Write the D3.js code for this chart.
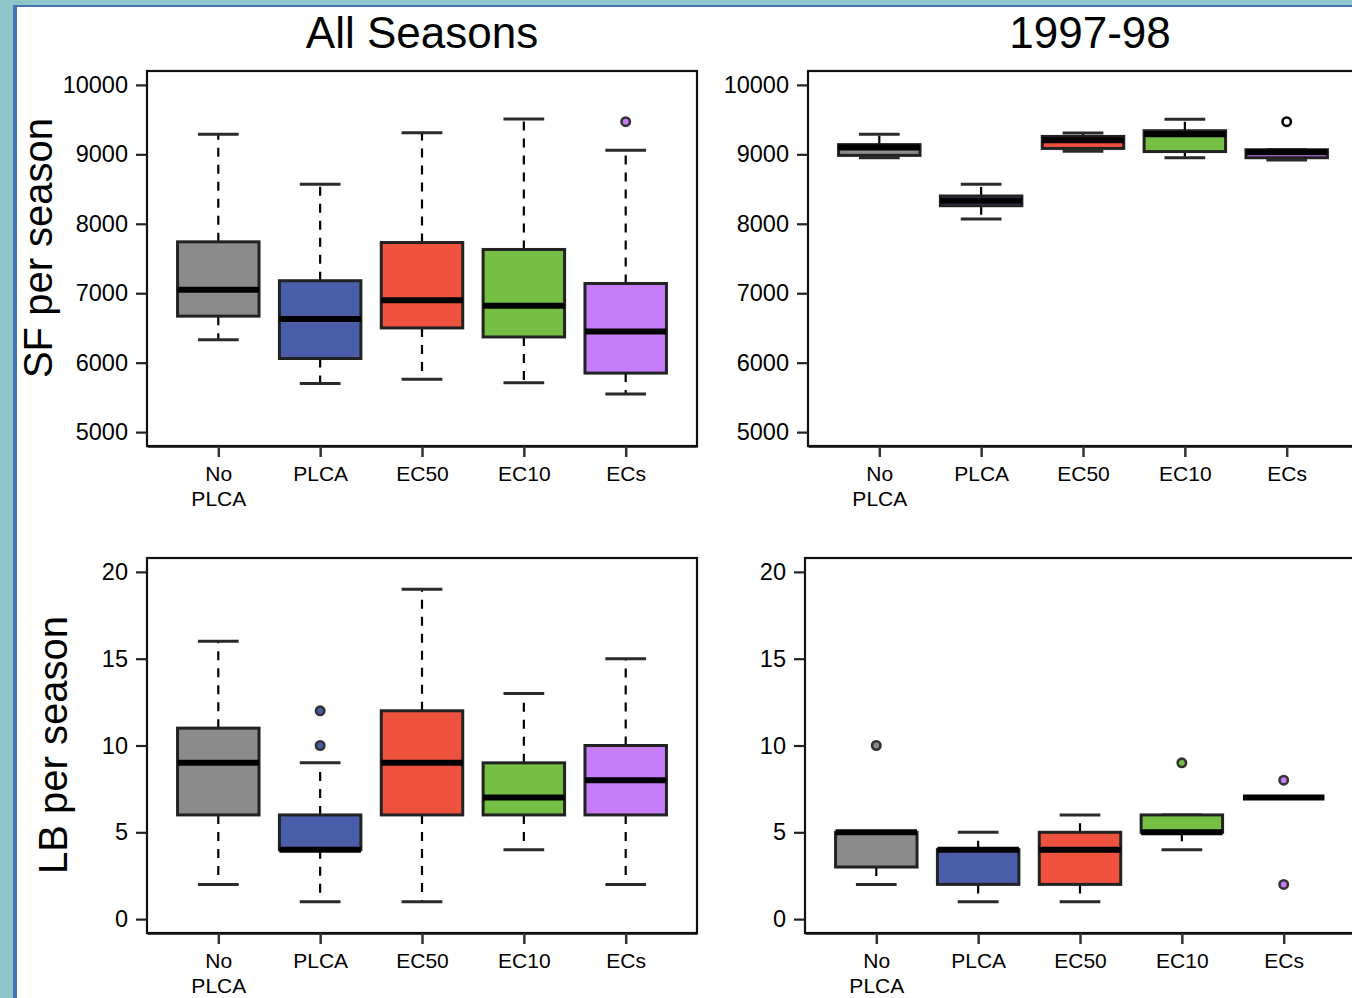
<!DOCTYPE html>
<html>
<head>
<meta charset="utf-8">
<script src="https://cdn.jsdelivr.net/npm/d3@7"></script>
<style>
  body { margin: 0; background: #fff; }
  svg { display: block; }
  text { font-family: "Liberation Sans", Arial, sans-serif; fill: #000; }
</style>
</head>
<body>
<svg id="chart" width="1352" height="998"></svg>
<script>
const groups = ['No\nPLCA', 'PLCA', 'EC50', 'EC10', 'ECs'];
const groupColors = ['#8b8b8b', '#4a5da8', '#ef523e', '#74bf44', '#c77cf8'];

// box stats per group: [min, q1, median, q3, max]
const sfAllSeasons = [
  [6330, 6670, 7050, 7740, 9290],
  [5700, 6060, 6630, 7180, 8570],
  [5760, 6500, 6900, 7730, 9310],
  [5710, 6370, 6820, 7630, 9510],
  [5550, 5850, 6450, 7140, 9060],
];
const sfAllOutliers = [[], [], [], [], [9470]];

const sf1997 = [
  [8950, 8985, 9100, 9140, 9290],
  [8070, 8260, 8330, 8400, 8570],
  [9046, 9085, 9203, 9258, 9308],
  [8950, 9040, 9290, 9340, 9505],
  [8920, 8951, 9030, 9066, 9066],
];
const sf1997Outliers = [[], [], [], [], [9470]];

const lbAllSeasons = [
  [2, 6, 9, 11, 16],
  [1, 4, 4, 6, 9],
  [1, 6, 9, 12, 19],
  [4, 6, 7, 9, 13],
  [2, 6, 8, 10, 15],
];
const lbAllOutliers = [[], [10, 12], [], [], []];

const lb1997 = [
  [2, 3, 5, 5, 5],
  [1, 2, 4, 4, 5],
  [1, 2, 4, 5, 6],
  [4, 5, 5, 6, 6],
  [7, 7, 7, 7, 7],
];
const lb1997Outliers = [[10], [], [], [9], [8, 2]];

const sfTicks = [5000, 6000, 7000, 8000, 9000, 10000];
const lbTicks = [0, 5, 10, 15, 20];

const svg = d3.select('#chart');
const width = +svg.attr('width');
const height = +svg.attr('height');

// slide background and border
svg.append('rect').attr('width', width).attr('height', height).attr('fill', '#8fc6c9');
svg.append('rect').attr('x', 13).attr('y', 5).attr('width', width).attr('height', height).attr('fill', '#4a72b0');
svg.append('rect').attr('x', 17).attr('y', 7).attr('width', width).attr('height', height).attr('fill', '#fff');

const pw = 550;
const ph = 375;

const panels = [
  { left: 147, top: 71, stats: sfAllSeasons, outliers: sfAllOutliers, yDomain: [4800, 10200], ticks: sfTicks,
    title: 'All Seasons', titleX: 422, ylab: 'SF per season', ylabX: 52, ylabY: 248 },
  { left: 808, top: 71, stats: sf1997, outliers: sf1997Outliers, yDomain: [4800, 10200], ticks: sfTicks,
    title: '1997-98', titleX: 1090, openOutliers: true },
  { left: 147, top: 558, stats: lbAllSeasons, outliers: lbAllOutliers, yDomain: [-0.8, 20.8], ticks: lbTicks,
    ylab: 'LB per season', ylabX: 67, ylabY: 745 },
  { left: 805, top: 558, stats: lb1997, outliers: lb1997Outliers, yDomain: [-0.8, 20.8], ticks: lbTicks },
];

panels.forEach(drawPanel);

function drawPanel(p) {
  const g = svg.append('g').attr('transform', `translate(${p.left},${p.top})`);
  const x = d3.scaleLinear().domain([0.3, groups.length + 0.7]).range([0, pw]);
  const y = d3.scaleLinear().domain(p.yDomain).range([ph, 0]);
  const half = x(1.4) - x(1);
  const capHalf = x(1.2) - x(1);

  const items = p.stats.map((s, i) => ({ i, pos: i + 1, min: s[0], q1: s[1], med: s[2], q3: s[3], max: s[4] }));

  // whiskers
  g.selectAll('.whisk-hi').data(items).enter().append('line')
    .attr('x1', d => x(d.pos)).attr('x2', d => x(d.pos))
    .attr('y1', d => y(d.q3)).attr('y2', d => y(d.max))
    .attr('stroke', '#000').attr('stroke-width', 2.2).attr('stroke-dasharray', '9,8');
  g.selectAll('.whisk-lo').data(items).enter().append('line')
    .attr('x1', d => x(d.pos)).attr('x2', d => x(d.pos))
    .attr('y1', d => y(d.q1)).attr('y2', d => y(d.min))
    .attr('stroke', '#000').attr('stroke-width', 2.2).attr('stroke-dasharray', '9,8');

  // staples
  ['min', 'max'].forEach((k) => {
    g.selectAll(`.cap-${k}`).data(items).enter().append('line')
      .attr('x1', d => x(d.pos) - capHalf).attr('x2', d => x(d.pos) + capHalf)
      .attr('y1', d => y(d[k])).attr('y2', d => y(d[k]))
      .attr('stroke', '#2a2a2a').attr('stroke-width', 3);
  });

  // boxes
  g.selectAll('.box').data(items).enter().append('rect')
    .attr('x', d => x(d.pos) - half)
    .attr('width', half * 2)
    .attr('y', d => y(d.q3))
    .attr('height', d => Math.max(0, y(d.q1) - y(d.q3)))
    .attr('fill', d => groupColors[d.i])
    .attr('stroke', '#222').attr('stroke-width', 3);

  // medians
  g.selectAll('.median').data(items).enter().append('line')
    .attr('x1', d => x(d.pos) - half).attr('x2', d => x(d.pos) + half)
    .attr('y1', d => y(d.med)).attr('y2', d => y(d.med))
    .attr('stroke', '#000').attr('stroke-width', 6);

  // outliers
  const pts = [];
  p.outliers.forEach((arr, i) => arr.forEach(v => pts.push({ i, pos: i + 1, v })));
  g.selectAll('.outlier').data(pts).enter().append('circle')
    .attr('cx', d => x(d.pos)).attr('cy', d => y(d.v)).attr('r', 4.2)
    .attr('fill', d => (p.openOutliers ? '#fff' : groupColors[d.i]))
    .attr('stroke', p.openOutliers ? '#000' : '#333')
    .attr('stroke-width', 2.6);

  // frame
  g.append('rect').attr('width', pw).attr('height', ph)
    .attr('fill', 'none').attr('stroke', '#111').attr('stroke-width', 2.2);

  // y axis
  const yAxis = g.append('g').call(
    d3.axisLeft(y).tickValues(p.ticks).tickSize(11).tickPadding(8).tickFormat(d3.format('d'))
  );
  yAxis.select('.domain').remove();
  yAxis.selectAll('line').attr('stroke', '#222').attr('stroke-width', 2.2);
  yAxis.selectAll('text').attr('font-size', 23.5).attr('fill', '#000')
    .style('font-family', '"Liberation Sans", Arial, sans-serif');

  // x axis
  const xAxis = g.append('g').attr('transform', `translate(0,${ph})`).call(
    d3.axisBottom(x).tickValues(groups.map((_, i) => i + 1)).tickSize(11).tickSizeOuter(0)
      .tickPadding(9).tickFormat((d, i) => groups[i])
  );
  xAxis.select('.domain').attr('stroke', '#111').attr('stroke-width', 2.5);
  xAxis.selectAll('line').attr('stroke', '#333').attr('stroke-width', 2.5);
  xAxis.selectAll('text').each(function splitLines(d, i) {
    const t = d3.select(this);
    const lines = groups[i].split('\n');
    t.text(null).attr('font-size', 21).attr('fill', '#000')
      .style('font-family', '"Liberation Sans", Arial, sans-serif');
    lines.forEach((line, k) => {
      t.append('tspan').attr('x', 0).attr('dy', k === 0 ? '0.71em' : '1.19em').text(line);
    });
  });
  xAxis.selectAll('text').attr('dy', null);

  if (p.title) {
    svg.append('text').attr('x', p.titleX).attr('y', 48)
      .attr('text-anchor', 'middle').attr('font-size', 44).text(p.title);
  }
  if (p.ylab) {
    svg.append('text')
      .attr('transform', `translate(${p.ylabX},${p.ylabY}) rotate(-90)`)
      .attr('text-anchor', 'middle').attr('font-size', 40).text(p.ylab);
  }
}
</script>
</body>
</html>
